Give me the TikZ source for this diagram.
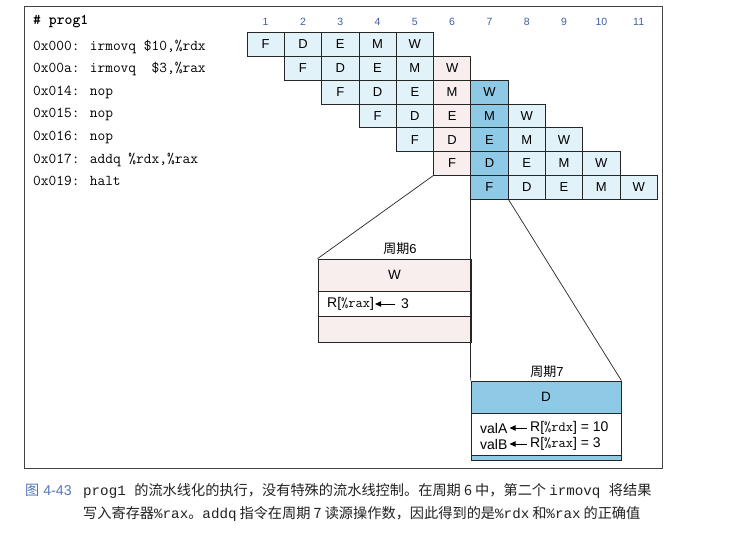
\documentclass[tikz,border=0pt]{standalone}
\usepackage{fontspec}
\setmainfont{Liberation Sans}
\newfontfamily\cjk{Noto Sans CJK SC}
\newfontfamily\cmono{Liberation Mono}
\usetikzlibrary{arrows.meta}
\definecolor{lb}{HTML}{E2F2F9}
\definecolor{pk}{HTML}{F8EEEE}
\definecolor{mb}{HTML}{8ECAE6}
\definecolor{framec}{HTML}{444444}
\definecolor{numblue}{HTML}{3D5FA5}
\definecolor{capblue}{HTML}{5577BB}
\definecolor{capgray}{HTML}{222222}
\tikzset{
  cell/.style={draw=black!85, line width=0.8pt, minimum width=37.3pt, minimum height=23.8pt, inner sep=0pt, font=\fontsize{13}{14}\selectfont},
  colnum/.style={text=numblue, inner sep=0pt, font=\fontsize{10.5}{12}\selectfont},
  code/.style={anchor=base west, inner sep=0pt, font=\fontsize{15}{18}\selectfont\ttfamily},
  box/.style={draw=black!85, line width=0.8pt, inner sep=0pt, font=\fontsize{13.5}{16}\selectfont},
  boxtext/.style={anchor=west, inner sep=0pt, font=\fontsize{14}{16}\selectfont},
  ttl/.style={inner sep=0pt, font=\fontsize{13}{15}\selectfont},
  link/.style={draw=black!85, line width=0.7pt},
  arr/.style={line width=0.9pt, -{Triangle[length=6pt,width=5.5pt]}},
  captxt/.style={anchor=base west, inner sep=0pt, text=capgray, font=\fontsize{14.2}{17}\selectfont}
}
\begin{document}
\begin{tikzpicture}[x=1pt,y=-1pt]
\path[use as bounding box, fill=white] (0,0) rectangle (748,552);
% frame
\draw[framec, line width=1pt] (24.5,6) rectangle (662,468.5);
% code
\node[code] (l0) at (33,24.5) {\bfseries\# prog1};
\node[code] (l1) at (33,50) {0x000: irmovq \$10,\%rdx};
\node[code] (l2) at (33,72.6) {0x00a: irmovq\ \ \$3,\%rax};
\node[code] (l3) at (33,95.2) {0x014: nop};
\node[code] (l4) at (33,117.8) {0x015: nop};
\node[code] (l5) at (33,140.4) {0x016: nop};
\node[code] (l6) at (33,163) {0x017: addq \%rdx,\%rax};
\node[code] (l7) at (33,185.6) {0x019: halt};
% column numbers
\foreach \c in {1,...,11} \node[colnum] (n\c) at (228.35+37.3*\c,22) {\c};
% cells
\foreach \r in {1,...,7} {
  \foreach \s [count=\i from 0] in {F,D,E,M,W} {
    \pgfmathtruncatemacro\c{\r+\i}
    \ifnum\c=6 \def\fc{pk}\else\ifnum\c=7 \def\fc{mb}\else\def\fc{lb}\fi\fi
    \node[cell, fill=\fc] (c-\r-\c) at (228.35+37.3*\c, 20.6+23.8*\r) {\s};
  }
}
% cycle 6 box
\node[ttl] (t6) at (400,249) {{\cjk 周期}6};
\node[box, fill=pk, minimum width=153pt, minimum height=32pt] (w6) at (394.5,275) {W};
\node[box, fill=white, minimum width=153pt, minimum height=25pt] (r6) at (394.5,303.5) {};
\node[box, fill=pk, minimum width=153pt, minimum height=26pt] (e6) at (394.5,329) {};
\node[boxtext] (r6a) at (327,304) {R[{\ttfamily\%rax}]};
\node[boxtext] (r6b) at (401,304) {3};
\draw[arr, shorten <=6pt, shorten >=1pt] (r6b.west) -- (r6a.east);
% cycle 7 box
\node[ttl] (t7) at (547,372) {{\cjk 周期}7};
\node[box, fill=mb, minimum width=150pt, minimum height=32pt] (d7) at (546,397) {D};
\node[box, fill=white, minimum width=150pt, minimum height=42pt] (v7) at (546,434) {};
\node[box, fill=mb, minimum width=150pt, minimum height=5pt] (s7) at (546,457.5) {};
\node[boxtext] (vaa) at (480,428) {valA};
\node[boxtext] (var) at (530,428) {R[{\ttfamily\%rdx}] = 10};
\draw[arr, shorten <=3pt, shorten >=2pt] (var.west) -- (vaa.east);
\node[boxtext] (vba) at (480,444) {valB};
\node[boxtext] (vbr) at (530,444) {R[{\ttfamily\%rax}] = 3};
\draw[arr, shorten <=3pt, shorten >=2pt] (vbr.west) -- (vba.east);
% links
\draw[link] (c-6-6.south west) -- (w6.north west);
\draw[link] (c-7-7.south west) -- (d7.north west);
\draw[link] (c-7-7.south east) -- (d7.north east);
% caption
\node[captxt, text=capblue] (fig) at (25,495) {{\cjk 图} 4-43};
\node[captxt] (cap1) at (83,495) {{\cmono prog1 }{\cjk 的流水线化的执行，没有特殊的流水线控制。在周期 6 中，第二个 }{\cmono irmovq }{\cjk 将结果}};
\node[captxt] (cap2) at (83,518) {{\cjk 写入寄存器}{\cmono \%rax}{\cjk 。}{\cmono addq}\hspace{3pt}{\cjk 指令在周期 7 读源操作数，因此得到的是}{\cmono \%rdx}\hspace{3pt}{\cjk 和}{\cmono \%rax}\hspace{3pt}{\cjk 的正确值}};
\end{tikzpicture}
\end{document}
